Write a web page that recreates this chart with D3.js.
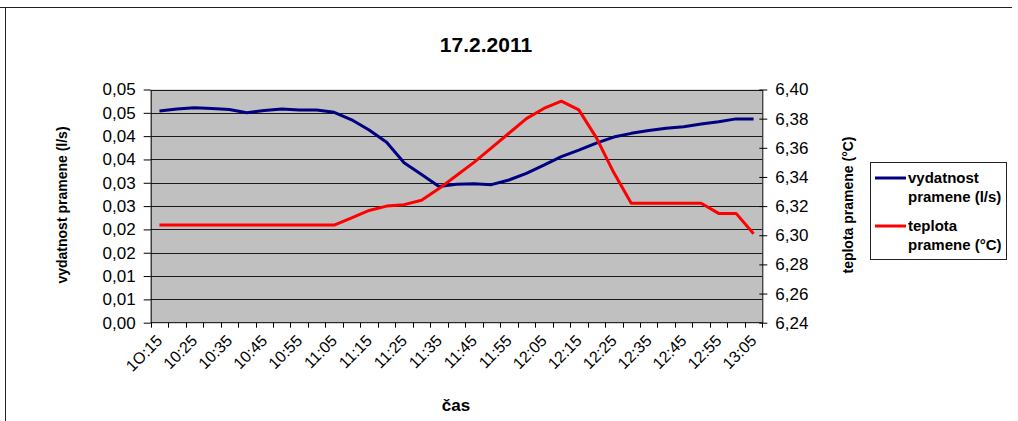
<!DOCTYPE html>
<html>
<head>
<meta charset="utf-8">
<script src="https://cdn.jsdelivr.net/npm/d3@7"></script>
<style>
  html, body { margin: 0; padding: 0; background: #fff; }
  svg { display: block; font-family: "Liberation Sans", Arial, sans-serif; }
</style>
</head>
<body>
<svg id="chart" width="1018" height="421"></svg>
<script>
// Measurement times (5-minute steps)
const categories = [
  "1O:15","10:20","10:25","10:30","10:35","10:40","10:45","10:50","10:55",
  "11:00","11:05","11:10","11:15","11:20","11:25","11:30","11:35","11:40",
  "11:45","11:50","11:55","12:00","12:05","12:10","12:15","12:20","12:25",
  "12:30","12:35","12:40","12:45","12:50","12:55","13:00","13:05"
];

// Spring discharge (l/s), left axis
const discharge = [
  0.0454, 0.0458, 0.0461, 0.0459, 0.0457, 0.0450, 0.0455, 0.0458, 0.0456,
  0.0456, 0.0451, 0.0435, 0.0413, 0.0387, 0.0343, 0.0318, 0.0292, 0.0297,
  0.0298, 0.0296, 0.0306, 0.0320, 0.0338, 0.0356, 0.0370, 0.0385, 0.0398,
  0.0406, 0.0412, 0.0417, 0.0420, 0.0426, 0.0431, 0.0437, 0.0437
];

// Spring temperature (°C), right axis
const temperature = [
  6.307, 6.307, 6.307, 6.307, 6.307, 6.307, 6.307, 6.307, 6.307,
  6.307, 6.307, 6.312, 6.317, 6.320, 6.321, 6.324, 6.332, 6.341,
  6.350, 6.360, 6.370, 6.380, 6.387, 6.392, 6.386, 6.367, 6.343,
  6.322, 6.322, 6.322, 6.322, 6.322, 6.315, 6.315, 6.301
];

// Axis ticks and their printed labels
const leftTicks = [0, 0.005, 0.01, 0.015, 0.02, 0.025, 0.03, 0.035, 0.04, 0.045, 0.05];
const leftTickLabels = ["0,00","0,01","0,01","0,02","0,02","0,03","0,03","0,04","0,04","0,05","0,05"];
const rightTicks = [6.24, 6.26, 6.28, 6.30, 6.32, 6.34, 6.36, 6.38, 6.40];
const rightTickLabels = ["6,24","6,26","6,28","6,30","6,32","6,34","6,36","6,38","6,40"];
const xLabelStep = 2;

const seriesNames = ["vydatnost pramene (l/s)", "teplota pramene (°C)"];

const svg = d3.select("#chart");
const plot = { left: 150.7, right: 762.3, top: 89.5, bottom: 322.7 };

// Page frame
svg.append("line").attr("x1", 0).attr("x2", 1012).attr("y1", 7.5).attr("y2", 7.5)
  .attr("stroke", "#222").attr("stroke-width", 1);
svg.append("line").attr("x1", 5.5).attr("x2", 5.5).attr("y1", 7).attr("y2", 421)
  .attr("stroke", "#222").attr("stroke-width", 1);

const x = d3.scaleBand().domain(categories).range([plot.left, plot.right]).paddingInner(0).paddingOuter(0);
const yL = d3.scaleLinear().domain([0, 0.05]).range([plot.bottom, plot.top]);
const yR = d3.scaleLinear().domain([6.24, 6.40]).range([plot.bottom, plot.top]);

// Plot background
svg.append("rect")
  .attr("x", plot.left).attr("y", plot.top)
  .attr("width", plot.right - plot.left).attr("height", plot.bottom - plot.top)
  .attr("fill", "#c0c0c0");

// Horizontal gridlines
svg.append("g").selectAll("line").data(leftTicks.slice(1)).join("line")
  .attr("x1", plot.left).attr("x2", plot.right)
  .attr("y1", d => Math.round(yL(d)) + 0.5).attr("y2", d => Math.round(yL(d)) + 0.5)
  .attr("stroke", "#1a1a1a").attr("stroke-width", 1);

// Left axis
const axL = svg.append("g").attr("transform", `translate(${plot.left},0)`)
  .call(d3.axisLeft(yL).tickValues(leftTicks)
    .tickFormat((d, i) => leftTickLabels[i]).tickSizeInner(7).tickSizeOuter(0).tickPadding(8));
axL.select(".domain").attr("stroke", "#000");
axL.selectAll(".tick line").attr("stroke", "#000");
axL.selectAll("text").attr("font-size", "17px").attr("fill", "#000")
  .attr("font-family", "Liberation Sans, Arial, sans-serif");

// Right axis (ticks cross the axis line)
const axR = svg.append("g").attr("transform", `translate(${plot.right},0)`)
  .call(d3.axisRight(yR).tickValues(rightTicks)
    .tickFormat((d, i) => rightTickLabels[i]).tickSizeInner(5).tickSizeOuter(0).tickPadding(8));
axR.select(".domain").attr("stroke", "#000");
axR.selectAll(".tick line").attr("stroke", "#000").attr("x1", -3);
axR.selectAll("text").attr("font-size", "17px").attr("fill", "#000")
  .attr("font-family", "Liberation Sans, Arial, sans-serif");

// Bottom axis: ticks between categories
const boundaries = categories.map(c => x(c)).concat([plot.right]);
svg.append("line").attr("x1", plot.left).attr("x2", plot.right)
  .attr("y1", plot.bottom).attr("y2", plot.bottom).attr("stroke", "#000");
svg.append("g").selectAll("line").data(boundaries).join("line")
  .attr("x1", d => Math.round(d) + 0.5).attr("x2", d => Math.round(d) + 0.5)
  .attr("y1", plot.bottom).attr("y2", plot.bottom + 5)
  .attr("stroke", "#000");

const axB = svg.append("g").attr("transform", `translate(0,${plot.bottom})`)
  .call(d3.axisBottom(x).tickValues(categories.filter((c, i) => i % xLabelStep === 0))
    .tickSize(0).tickPadding(0));
axB.select(".domain").remove();
axB.selectAll("text")
  .attr("font-size", "16px").attr("fill", "#000")
  .attr("font-family", "Liberation Sans, Arial, sans-serif")
  .attr("text-anchor", "end")
  .attr("transform", "translate(0,15) rotate(-45)")
  .attr("dy", "0.35em").attr("y", 0);

// Series lines
const cx = c => x(c) + x.bandwidth() / 2;
const lineL = d3.line().x((d, i) => cx(categories[i])).y(d => yL(d));
const lineR = d3.line().x((d, i) => cx(categories[i])).y(d => yR(d));

svg.append("path").datum(discharge).attr("d", lineL)
  .attr("fill", "none").attr("stroke", "#000080").attr("stroke-width", 3)
  .attr("stroke-linejoin", "round");
svg.append("path").datum(temperature).attr("d", lineR)
  .attr("fill", "none").attr("stroke", "#ff0000").attr("stroke-width", 3)
  .attr("stroke-linejoin", "round");

// Title
svg.append("text").attr("x", 486).attr("y", 52).attr("text-anchor", "middle")
  .attr("font-size", "21px").attr("font-weight", "bold").text("17.2.2011");

// Axis titles
svg.append("text").attr("transform", "translate(67,205) rotate(-90)")
  .attr("text-anchor", "middle").attr("font-size", "14px").attr("font-weight", "bold")
  .text(seriesNames[0]);
svg.append("text").attr("transform", "translate(853,205) rotate(-90)")
  .attr("text-anchor", "middle").attr("font-size", "14px").attr("font-weight", "bold")
  .text(seriesNames[1]);
svg.append("text").attr("x", 456).attr("y", 411).attr("text-anchor", "middle")
  .attr("font-size", "17px").attr("font-weight", "bold").text("čas");

// Legend
const legend = svg.append("g");
legend.append("rect").attr("x", 870.5).attr("y", 162.5).attr("width", 136).attr("height", 97)
  .attr("fill", "#fff").attr("stroke", "#222").attr("stroke-width", 1);
const legendItems = [
  { color: "#000080", y: 178, lines: ["vydatnost", "pramene (l/s)"] },
  { color: "#ff0000", y: 226, lines: ["teplota", "pramene (°C)"] }
];
legendItems.forEach(item => {
  legend.append("line").attr("x1", 875).attr("x2", 906).attr("y1", item.y).attr("y2", item.y)
    .attr("stroke", item.color).attr("stroke-width", 3);
  const t = legend.append("text").attr("x", 908).attr("y", item.y + 5)
    .attr("font-size", "15px").attr("font-weight", "bold");
  item.lines.forEach((s, k) => {
    t.append("tspan").attr("x", 908).attr("dy", k === 0 ? 0 : 19).text(s);
  });
});
</script>
</body>
</html>
